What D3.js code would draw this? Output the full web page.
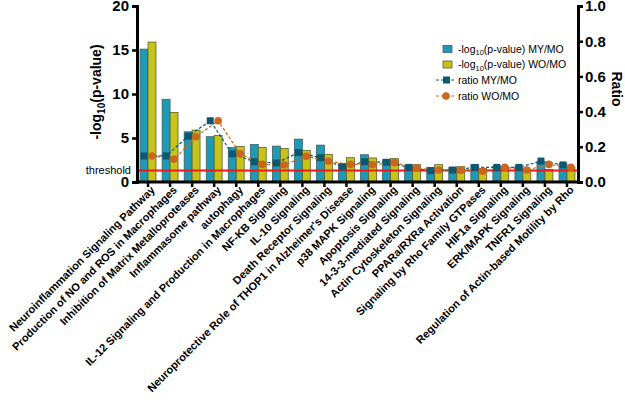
<!DOCTYPE html>
<html>
<head>
<meta charset="utf-8">
<script src="https://cdn.jsdelivr.net/npm/d3@7"></script>
<style>
  body { margin: 0; background: #fff; }
  text { font-family: Arial, "Liberation Sans", sans-serif; }
</style>
</head>
<body>
<svg id="chart" width="625" height="403"></svg>
<script>
// pathways (x categories)
var categories = [
  "Neuroinflammation Signaling Pathway",
  "Production of NO and ROS in Macrophages",
  "Inhibition of Matrix Metalloproteases",
  "Inflammasome pathway",
  "autophagy",
  "IL-12 Signaling and Production in Macrophages",
  "NF-KB Signaling",
  "IL-10 Signaling",
  "Death Receptor Signaling",
  "Neuroprotective Role of THOP1 in Alzheimer's Disease",
  "p38 MAPK Signaling",
  "Apoptosis Signaling",
  "14-3-3-mediated Signaling",
  "Actin Cytoskeleton Signaling",
  "PPARa/RXRa Activation",
  "Signaling by Rho Family GTPases",
  "HIF1a Signaling",
  "ERK/MAPK Signaling",
  "TNFR1 Signaling",
  "Regulation of Actin-based Motility by Rho"
];

// -log10(p-value)
var myLogP = [15.1, 9.4, 5.7, 5.15, 3.9, 4.27, 4.08, 4.87, 4.19, 2.08, 3.1, 2.55, 1.89, 1.66, 1.66, 1.97, 1.82, 1.82, 2.3, 2.08];
var woLogP = [15.9, 7.9, 5.9, 5.3, 4.05, 3.93, 3.82, 3.59, 3.14, 2.76, 2.73, 2.65, 1.97, 1.97, 1.74, 1.52, 1.7, 1.44, 1.44, 1.7];

// ratio
var myRatio = [0.148, 0.148, 0.26, 0.348, 0.16, 0.115, 0.108, 0.167, 0.138, 0.085, 0.115, 0.112, 0.083, 0.064, 0.068, 0.083, 0.083, 0.083, 0.119, 0.097];
var woRatio = [0.148, 0.129, 0.257, 0.348, 0.16, 0.1, 0.097, 0.146, 0.118, 0.1, 0.098, 0.11, 0.078, 0.068, 0.066, 0.061, 0.083, 0.068, 0.1, 0.083];

var leftTicks = [0, 5, 10, 15, 20];
var rightTicks = [0, 0.2, 0.4, 0.6, 0.8, 1.0];
var threshold = 1.3;

var blue = "#1f9ab6", yellow = "#c6c41a", dark = "#0c5870", orange = "#cc661c";

var svg = d3.select("#chart");
var plotL = 137, plotR = 578, plotT = 6, plotB = 182;

var x = d3.scaleBand().domain(categories).range([plotL, plotR]).paddingInner(0.28).paddingOuter(0.14);
var x1 = d3.scaleBand().domain(["MY", "WO"]).range([0, x.bandwidth()]);
var yL = d3.scaleLinear().domain([0, 20]).range([plotB, plotT]);
var yR = d3.scaleLinear().domain([0, 1]).range([plotB, plotT]);

//Bars
var groups = svg.append("g").selectAll("g").data(categories).enter()
  .append("g").attr("transform", function(d){ return "translate(" + x(d) + ",0)"; });
groups.append("rect")
  .attr("x", x1("MY")).attr("width", x1.bandwidth())
  .attr("y", function(d, i){ return yL(myLogP[i]); })
  .attr("height", function(d, i){ return plotB - yL(myLogP[i]); })
  .attr("fill", blue).attr("stroke", "#3d5f66").attr("stroke-width", 0.8);
groups.append("rect")
  .attr("x", x1("WO")).attr("width", x1.bandwidth())
  .attr("y", function(d, i){ return yL(woLogP[i]); })
  .attr("height", function(d, i){ return plotB - yL(woLogP[i]); })
  .attr("fill", yellow).attr("stroke", "#5d5d2a").attr("stroke-width", 0.8);

//Threshold
svg.append("line")
  .attr("x1", plotL).attr("x2", plotR)
  .attr("y1", yL(threshold)).attr("y2", yL(threshold))
  .attr("stroke", "#f01818").attr("stroke-width", 2);
svg.append("text").attr("x", 131).attr("y", yL(threshold)).attr("dy", "0.3em")
  .attr("text-anchor", "end").attr("font-size", 11).text("threshold");

//Ratio lines
var cxMY = function(i){ return x(categories[i]) + x1("MY") + x1.bandwidth() / 2; };
var cxWO = function(i){ return x(categories[i]) + x1("WO") + x1.bandwidth() / 2; };
var lineMY = d3.line().x(function(d, i){ return cxMY(i); }).y(function(d){ return yR(d); });
var lineWO = d3.line().x(function(d, i){ return cxWO(i); }).y(function(d){ return yR(d); });

svg.append("path").datum(myRatio).attr("d", lineMY).attr("fill", "none")
  .attr("stroke", dark).attr("stroke-width", 1.2).attr("stroke-dasharray", "3,2");
svg.append("path").datum(woRatio).attr("d", lineWO).attr("fill", "none")
  .attr("stroke", orange).attr("stroke-width", 1.2).attr("stroke-dasharray", "3,2");

svg.append("g").selectAll("rect").data(myRatio).enter().append("rect")
  .attr("x", function(d, i){ return cxMY(i) - 3.5; })
  .attr("y", function(d){ return yR(d) - 3.5; })
  .attr("width", 7).attr("height", 7).attr("fill", dark);
svg.append("g").selectAll("circle").data(woRatio).enter().append("circle")
  .attr("cx", function(d, i){ return cxWO(i); })
  .attr("cy", function(d){ return yR(d); })
  .attr("r", 3.8).attr("fill", orange);

//Axes
var axL = svg.append("g").attr("transform", "translate(" + plotL + ",0)")
  .call(d3.axisLeft(yL).tickValues(leftTicks).tickSize(5).tickPadding(3).tickFormat(d3.format("d")));
var axR = svg.append("g").attr("transform", "translate(" + plotR + ",0)")
  .call(d3.axisRight(yR).tickValues(rightTicks).tickSize(5).tickPadding(2).tickFormat(d3.format(".1f")));
var axB = svg.append("g").attr("transform", "translate(0," + plotB + ")")
  .call(d3.axisBottom(x).tickSize(5).tickPadding(2));

[axL, axR, axB].forEach(function(ax){
  ax.select(".domain").attr("stroke", "#000").attr("stroke-width", 3);
  ax.selectAll(".tick line").attr("stroke", "#000").attr("stroke-width", 2.5);
});
axB.select(".domain").attr("d", "M" + (plotL - 1.5) + ",0H" + (plotR + 1.5));
axL.selectAll("text").attr("font-size", 15).attr("font-weight", "bold").attr("fill", "#000");
axR.selectAll("text").attr("font-size", 15).attr("font-weight", "bold").attr("fill", "#000");
axB.selectAll("text")
  .attr("font-size", 11).attr("font-weight", "bold").attr("fill", "#000")
  .attr("text-anchor", "end")
  .attr("transform", "translate(2,3) rotate(-45)")
  .attr("dy", "0.35em").attr("y", 4).attr("x", 0);

//Axis titles
var tl = svg.append("text").attr("transform", "translate(101,92) rotate(-90)")
  .attr("text-anchor", "middle").attr("font-size", 14).attr("font-weight", "bold");
tl.append("tspan").text("-log");
tl.append("tspan").attr("font-size", 10).attr("dy", 3.5).text("10");
tl.append("tspan").attr("dy", -3.5).text("(p-value)");

svg.append("text").attr("transform", "translate(612,89) rotate(90)")
  .attr("text-anchor", "middle").attr("font-size", 14).attr("font-weight", "bold").text("Ratio");

//Legend
var lg = svg.append("g");
var rows = [49, 64.5, 80, 96];
lg.append("rect").attr("x", 443).attr("y", rows[0] - 3.5).attr("width", 9).attr("height", 7)
  .attr("fill", blue).attr("stroke", "#3d5f66").attr("stroke-width", 0.8);
lg.append("rect").attr("x", 443).attr("y", rows[1] - 3.5).attr("width", 9).attr("height", 7)
  .attr("fill", yellow).attr("stroke", "#5d5d2a").attr("stroke-width", 0.8);
lg.append("line").attr("x1", 436).attr("x2", 456).attr("y1", rows[2]).attr("y2", rows[2])
  .attr("stroke", dark).attr("stroke-width", 1.2).attr("stroke-dasharray", "3,2");
lg.append("rect").attr("x", 443).attr("y", rows[2] - 3.5).attr("width", 7).attr("height", 7).attr("fill", dark);
lg.append("line").attr("x1", 436).attr("x2", 456).attr("y1", rows[3]).attr("y2", rows[3])
  .attr("stroke", orange).attr("stroke-width", 1.2).attr("stroke-dasharray", "3,2");
lg.append("circle").attr("cx", 446).attr("cy", rows[3]).attr("r", 3.8).attr("fill", orange);

function legendText(y, pre, sub, post) {
  var t = lg.append("text").attr("x", 458).attr("y", y).attr("dy", "0.35em").attr("font-size", 10.5);
  t.append("tspan").text(pre);
  if (sub) {
    t.append("tspan").attr("font-size", 7.5).attr("dy", 2.5).text(sub);
    t.append("tspan").attr("dy", -2.5).text(post);
  }
}
legendText(rows[0], "-log", "10", "(p-value) MY/MO");
legendText(rows[1], "-log", "10", "(p-value) WO/MO");
legendText(rows[2], "ratio MY/MO");
legendText(rows[3], "ratio WO/MO");
</script>
</body>
</html>
